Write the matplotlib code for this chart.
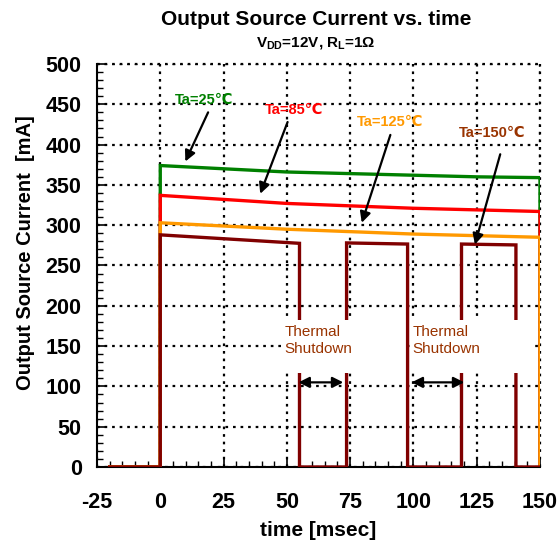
import matplotlib
matplotlib.use("Agg")
import matplotlib.pyplot as plt
from matplotlib.patches import Rectangle

plt.rcParams['font.family'] = ['Liberation Sans', 'DejaVu Sans', 'Noto Sans CJK JP']
plt.rcParams['mathtext.fontset'] = 'custom'
plt.rcParams['mathtext.rm'] = 'Liberation Sans:bold'
plt.rcParams['mathtext.it'] = 'Liberation Sans:bold'
plt.rcParams['mathtext.bf'] = 'Liberation Sans:bold'
plt.rcParams['axes.unicode_minus'] = False

# ---- data ----
t25 = [-20, 0, 0, 25, 50, 75, 100, 125, 150, 150]
i25 = [0, 0, 374, 370, 366, 364, 362, 360, 359, 0]

t85 = [-20, 0, 0, 25, 50, 75, 100, 125, 150, 150]
i85 = [0, 0, 337, 332, 327, 324, 321, 319, 317, 0]

t125 = [-20, 0, 0, 25, 50, 75, 100, 125, 150, 150]
i125 = [0, 0, 303, 299, 295, 292, 289, 287, 285, 0]

t150 = [-20, 0, 0, 55, 55, 73.6, 73.6, 97.7, 97.7, 119, 119, 140.5, 140.5, 151]
i150 = [0, 0, 288, 277.5, 0, 0, 278, 276.6, 0, 0, 276.6, 275.5, 0, 0]

x_ticks = [-25, 0, 25, 50, 75, 100, 125, 150]
y_ticks = [0, 50, 100, 150, 200, 250, 300, 350, 400, 450, 500]

C25 = '#008000'
C85 = '#FF0000'
C125 = '#FF9900'
C150 = '#800000'
CTXT150 = '#993300'

fig = plt.figure(figsize=(5.58, 5.40), dpi=100)
ax = fig.add_axes([0.1738, 0.1352, 0.7939, 0.7463])

lw = 2.4
ax.plot(t25, i25, color=C25, lw=lw, zorder=3, solid_joinstyle='miter')
ax.plot(t85, i85, color=C85, lw=lw, zorder=4, solid_joinstyle='miter')
ax.plot(t125, i125, color=C125, lw=lw, zorder=5, solid_joinstyle='miter')
ax.plot(t150, i150, color=C150, lw=lw, zorder=6, solid_joinstyle='miter')

ax.set_xlim(-25, 150)
ax.set_ylim(0, 500)
ax.set_xticks(x_ticks)
ax.set_yticks(y_ticks)
ax.set_xticks(range(-25, 151, 5), minor=True)
ax.set_yticks(range(0, 501, 10), minor=True)
ax.tick_params(which='major', direction='in', length=6, width=1.2, labelsize=15.5)
ax.tick_params(which='minor', direction='in', length=4, width=1.0)
for lab in ax.get_xticklabels() + ax.get_yticklabels():
    lab.set_fontweight('bold')
ax.tick_params(axis='x', which='major', pad=18)
ax.tick_params(axis='y', which='major', pad=11)

ax.spines['top'].set_visible(False)
ax.spines['right'].set_visible(False)
ax.spines['left'].set_linewidth(1.5)
ax.spines['bottom'].set_linewidth(1.5)

ax.grid(True, which='major', color='black', lw=1.6, linestyle=(0, (1.2, 2.2)), zorder=1)
ax.axhline(500, color='black', lw=1.6, linestyle=(0, (1.2, 2.2)), clip_on=False)
ax.axvline(150, color='black', lw=1.6, linestyle=(0, (1.2, 2.2)), clip_on=False, zorder=1)
ax.set_axisbelow(True)

ax.set_xlabel('time [msec]', fontsize=15, fontweight='bold', labelpad=6)
ax.set_ylabel('Output Source Current  [mA]', fontsize=14.5, fontweight='bold', labelpad=8)
ax.yaxis.label.set_y(0.531)

fig.text(0.5665, 0.963, 'Output Source Current vs. time', ha='center', va='center',
         fontsize=15, fontweight='bold')
fig.text(0.5665, 0.921, r'$V_{DD}$=12V, $R_L$=1Ω', ha='center', va='center',
         fontsize=11, fontweight='bold')

# annotations
lab_kw = dict(fontsize=10.5, fontweight='bold', ha='center', va='center', zorder=10)
arr = dict(arrowstyle='-|>', color='black', lw=1.6, mutation_scale=16, shrinkA=0, shrinkB=0)
ax.text(17.4, 455, 'Ta=25℃', color=C25, **lab_kw)
ax.annotate('', xy=(9.9, 379), xytext=(18.9, 440), arrowprops=arr, zorder=10)
ax.text(53, 443, 'Ta=85℃', color=C85, **lab_kw)
ax.annotate('', xy=(39.5, 339), xytext=(50.3, 428), arrowprops=arr, zorder=10)
ax.text(90.9, 428, 'Ta=125℃', color=C125, **lab_kw)
ax.annotate('', xy=(79.6, 303), xytext=(90.9, 412), arrowprops=arr, zorder=10)
ax.text(131, 415, 'Ta=150℃', color=CTXT150, **lab_kw)
ax.annotate('', xy=(124.3, 276), xytext=(134.3, 388), arrowprops=arr, zorder=10)

# thermal shutdown boxes
ax.add_patch(Rectangle((48, 116.5), 48.8, 65.5, facecolor='white', edgecolor='none', zorder=8))
ax.add_patch(Rectangle((99, 116.5), 48, 65.5, facecolor='white', edgecolor='none', zorder=8))
ax.text(49, 157, 'Thermal\nShutdown', color=CTXT150, fontsize=11, ha='left', va='center',
        linespacing=1.25, zorder=9)
ax.text(99.5, 157, 'Thermal\nShutdown', color=CTXT150, fontsize=11, ha='left', va='center',
        linespacing=1.25, zorder=9)
darr = dict(arrowstyle='<|-|>', color='black', lw=1.6, mutation_scale=16, shrinkA=0, shrinkB=0)
ax.annotate('', xy=(72.3, 105), xytext=(54.6, 105), arrowprops=darr, zorder=10)
ax.annotate('', xy=(120.1, 105), xytext=(99.3, 105), arrowprops=darr, zorder=10)

fig.savefig('out.png', dpi=100)
